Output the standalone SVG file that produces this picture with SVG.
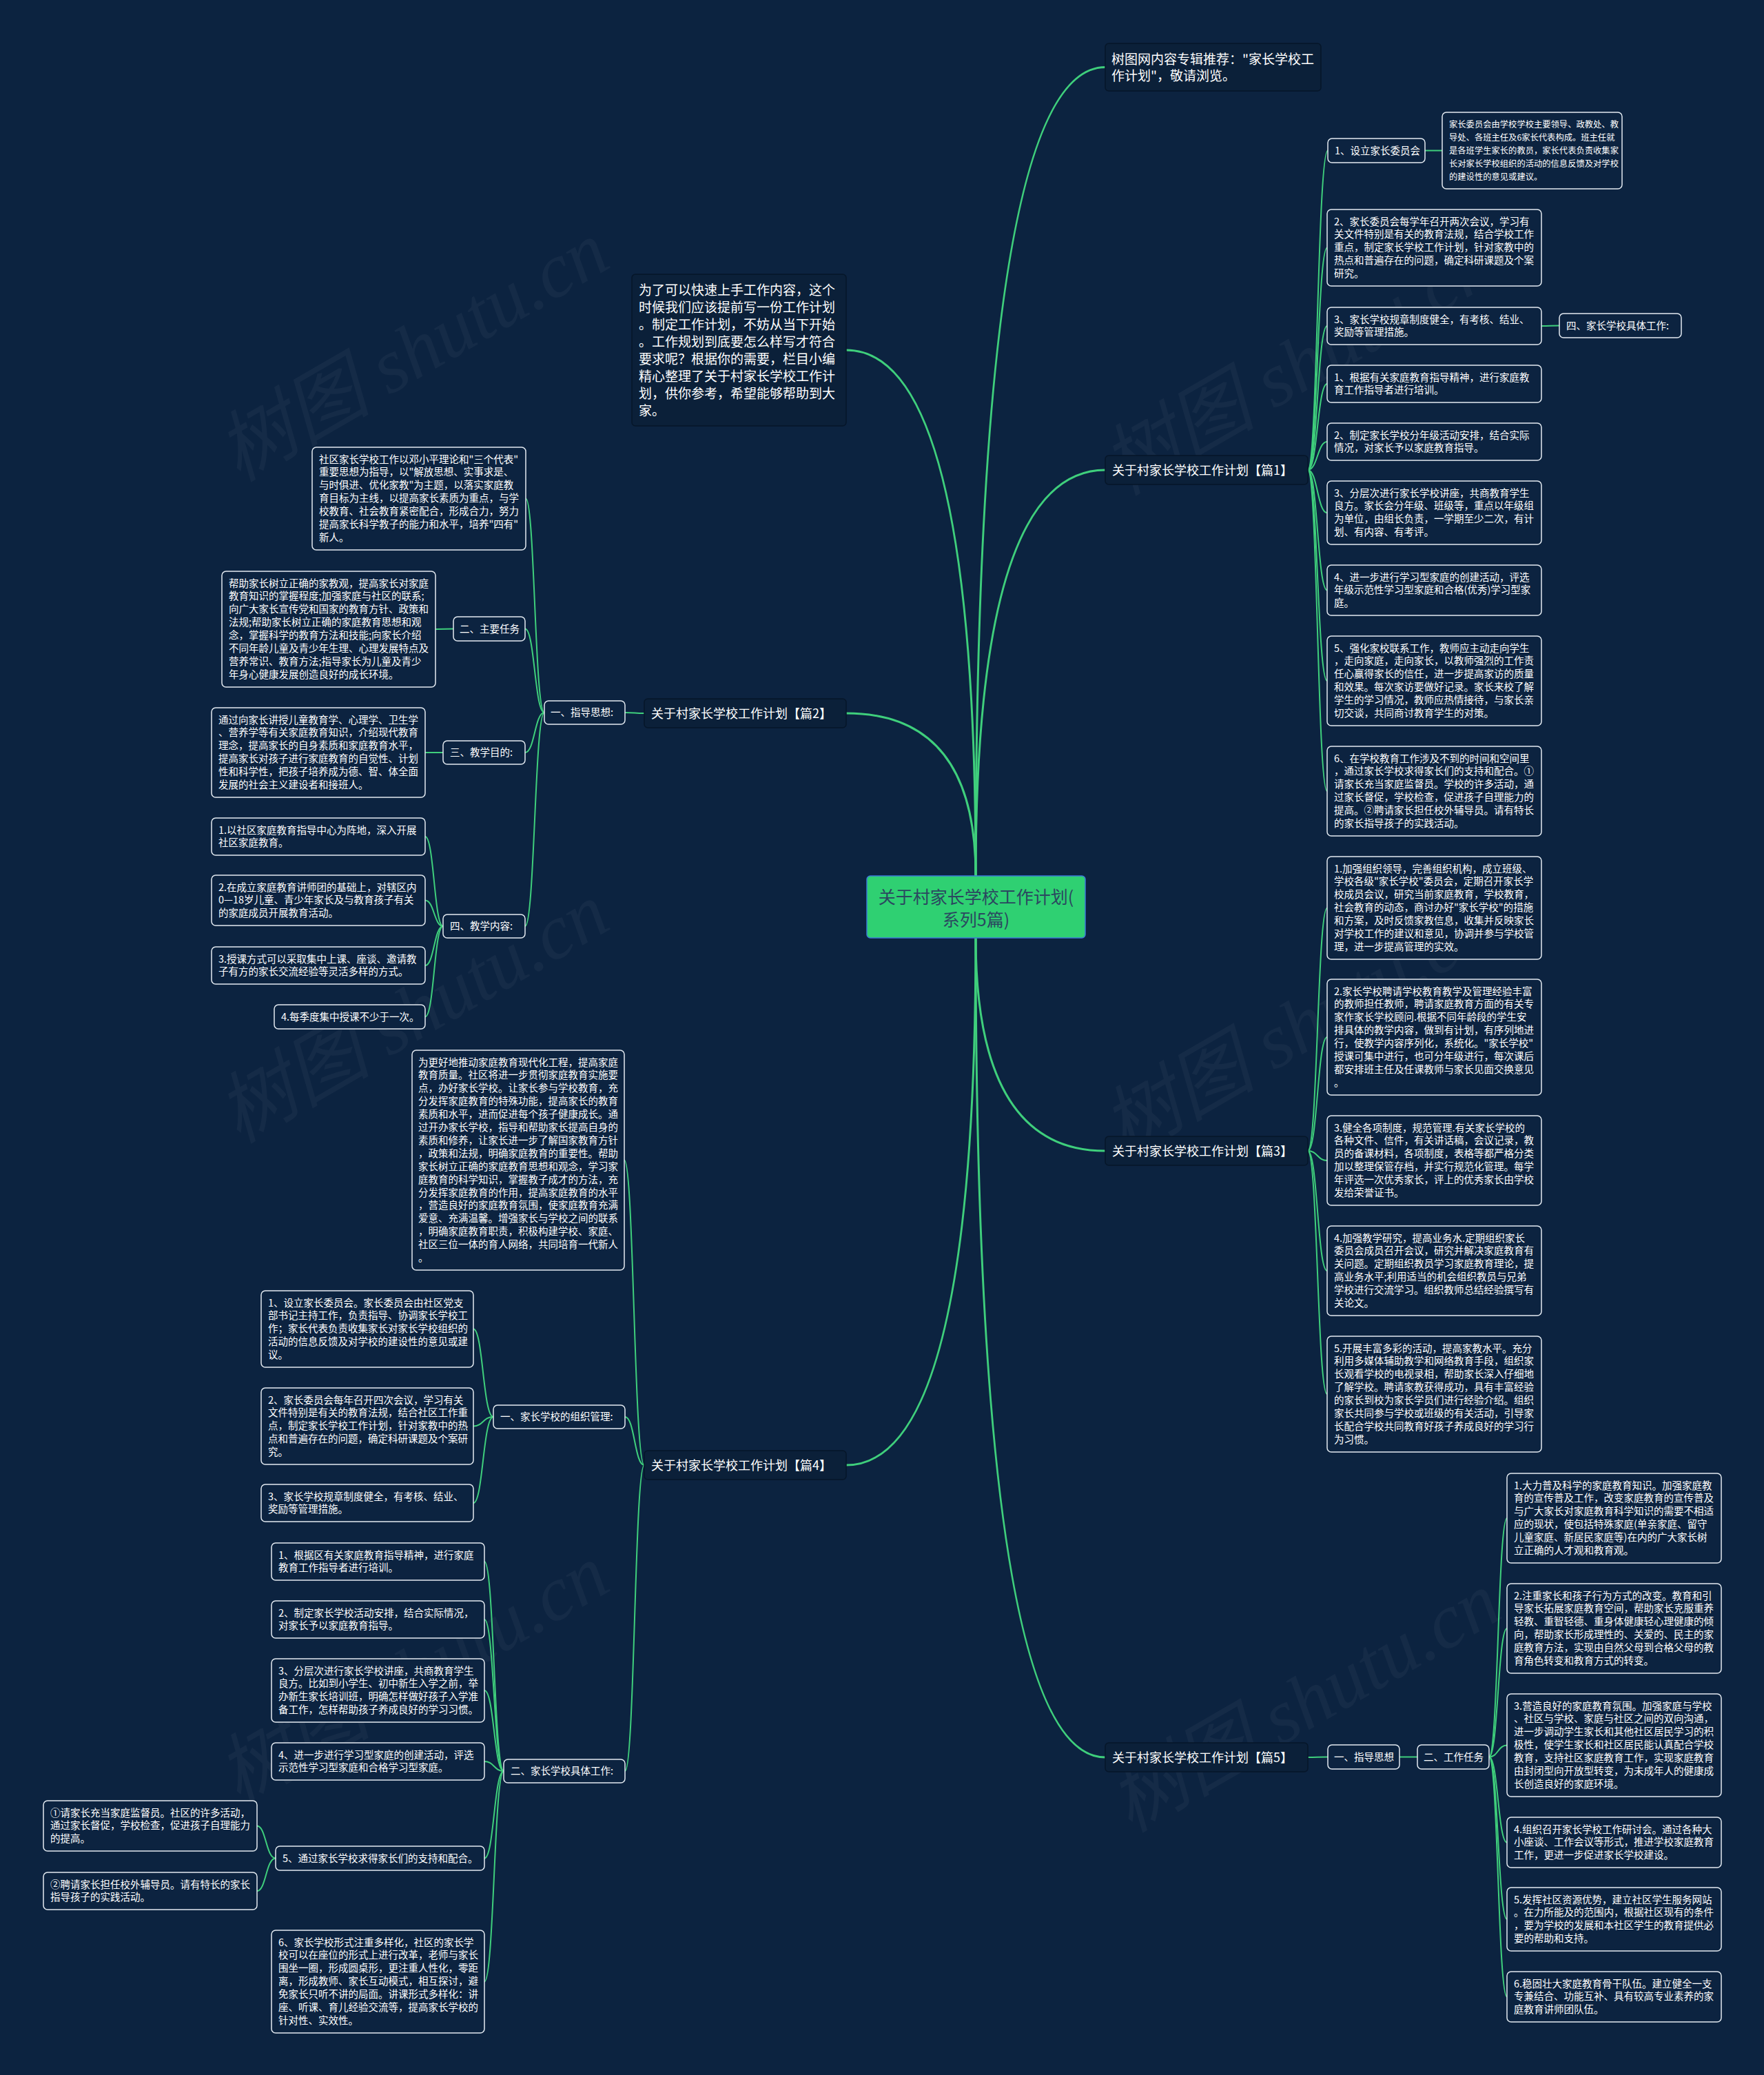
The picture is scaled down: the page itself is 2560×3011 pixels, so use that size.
<svg xmlns="http://www.w3.org/2000/svg" width="2560" height="3011" viewBox="0 0 2560 3011">
<style>
.ln{fill:none;stroke:#3fcf7c;stroke-width:2}
.ln0{fill:none;stroke:#3fcf7c;stroke-width:3}
.bn{fill:#0b2039;stroke:#061629;stroke-width:1.5}
.nd{fill:#0c2340;stroke:#e3eaf1;stroke-width:1.5}
text{font-family:"Noto Sans CJK SC","Noto Sans",sans-serif;fill:#ffffff}
.s{font-size:14.5px}
.xs{font-size:12.3px}
.m{font-size:18px}
.l{font-size:19px}
.c{font-size:25px;fill:#2b4760}
.wm{font-size:112px;fill:#ffffff;opacity:0.035;font-family:"Liberation Serif","Noto Sans CJK SC",serif;font-style:italic}
</style>
<rect x="0" y="0" width="2560" height="3011" fill="#0c2340"/>
<g id="watermarks">
<text class="wm" transform="translate(346,700) rotate(-30)">树图 shutu.cn</text>
<text class="wm" transform="translate(346,1660) rotate(-30)">树图 shutu.cn</text>
<text class="wm" transform="translate(346,2620) rotate(-30)">树图 shutu.cn</text>
<text class="wm" transform="translate(1630,720) rotate(-30)">树图 shutu.cn</text>
<text class="wm" transform="translate(1630,1680) rotate(-30)">树图 shutu.cn</text>
<text class="wm" transform="translate(1640,2660) rotate(-30)">树图 shutu.cn</text>
</g>
<g id="connectors">
<path class="ln0" d="M1416,1271 Q1416,97.5 1604,97.5"/>
<path class="ln0" d="M1416,1271 Q1416,682 1604,682"/>
<path class="ln0" d="M1416,1271 Q1416,508 1228,508"/>
<path class="ln0" d="M1416,1271 Q1416,1035 1228,1035"/>
<path class="ln0" d="M1416,1361 Q1416,1670 1604,1670"/>
<path class="ln0" d="M1416,1361 Q1416,2126 1228,2126"/>
<path class="ln0" d="M1416,1361 Q1416,2550 1604,2550"/>
<path class="ln" d="M1898,682 C1912,682 1912,218.5 1927,218.5"/>
<path class="ln" d="M1898,682 C1912,682 1912,359.5 1926,359.5"/>
<path class="ln" d="M1898,682 C1912,682 1912,473 1926,473"/>
<path class="ln" d="M1898,682 C1912,682 1912,557 1926,557"/>
<path class="ln" d="M1898,682 C1912,682 1912,641 1926,641"/>
<path class="ln" d="M1898,682 C1912,682 1912,744 1926,744"/>
<path class="ln" d="M1898,682 C1912,682 1912,856.5 1926,856.5"/>
<path class="ln" d="M1898,682 C1912,682 1912,988 1926,988"/>
<path class="ln" d="M1898,682 C1912,682 1912,1148 1926,1148"/>
<path class="ln" d="M2068,218.5 L2093,218.5"/>
<path class="ln" d="M2237,473 C2250,473 2250,472.5 2263,472.5"/>
<path class="ln" d="M1898,1670 C1912,1670 1912,1317.5 1926,1317.5"/>
<path class="ln" d="M1898,1670 C1912,1670 1912,1505 1926,1505"/>
<path class="ln" d="M1898,1670 C1912,1670 1912,1684 1926,1684"/>
<path class="ln" d="M1898,1670 C1912,1670 1912,1844 1926,1844"/>
<path class="ln" d="M1898,1670 C1912,1670 1912,2023 1926,2023"/>
<path class="ln" d="M1898,2550 C1912,2550 1912,2549.5 1927,2549.5"/>
<path class="ln" d="M2031,2549.5 L2057,2549.5"/>
<path class="ln" d="M2161,2549.5 C2174,2549.5 2174,2203 2187,2203"/>
<path class="ln" d="M2161,2549.5 C2174,2549.5 2174,2363 2187,2363"/>
<path class="ln" d="M2161,2549.5 C2174,2549.5 2174,2532.5 2187,2532.5"/>
<path class="ln" d="M2161,2549.5 C2174,2549.5 2174,2673.5 2187,2673.5"/>
<path class="ln" d="M2161,2549.5 C2174,2549.5 2174,2785 2187,2785"/>
<path class="ln" d="M2161,2549.5 C2174,2549.5 2174,2897.5 2187,2897.5"/>
<path class="ln" d="M935,1035 C921,1035 921,1034 907,1034"/>
<path class="ln" d="M790,1034 C776,1034 776,723.5 763,723.5"/>
<path class="ln" d="M790,1034 C776,1034 776,912.5 762,912.5"/>
<path class="ln" d="M790,1034 C776,1034 776,1092 762,1092"/>
<path class="ln" d="M790,1034 C776,1034 776,1344 762,1344"/>
<path class="ln" d="M658,912.5 L632,913"/>
<path class="ln" d="M643,1092 L617,1092"/>
<path class="ln" d="M643,1344 C630,1344 630,1214 617,1214"/>
<path class="ln" d="M643,1344 C630,1344 630,1306.5 617,1306.5"/>
<path class="ln" d="M643,1344 C630,1344 630,1401 617,1401"/>
<path class="ln" d="M643,1344 C630,1344 630,1475.5 617,1475.5"/>
<path class="ln" d="M935,2126 C920,2126 920,1683.5 906,1683.5"/>
<path class="ln" d="M935,2126 C921,2126 921,2056 907,2056"/>
<path class="ln" d="M935,2126 C921,2126 921,2570 907,2570"/>
<path class="ln" d="M716,2056 C701,2056 701,1928.5 687,1928.5"/>
<path class="ln" d="M716,2056 C701,2056 701,2069.5 687,2069.5"/>
<path class="ln" d="M716,2056 C701,2056 701,2181 687,2181"/>
<path class="ln" d="M731,2570 C717,2570 717,2266 703,2266"/>
<path class="ln" d="M731,2570 C717,2570 717,2350 703,2350"/>
<path class="ln" d="M731,2570 C717,2570 717,2453 703,2453"/>
<path class="ln" d="M731,2570 C717,2570 717,2556 703,2556"/>
<path class="ln" d="M731,2570 C717,2570 717,2696.5 703,2696.5"/>
<path class="ln" d="M731,2570 C717,2570 717,2875.5 703,2875.5"/>
<path class="ln" d="M400,2696.5 C386,2696.5 386,2649.5 373,2649.5"/>
<path class="ln" d="M400,2696.5 C386,2696.5 386,2744 373,2744"/>
</g>
<g id="center">
<rect x="1258" y="1271" width="317" height="90" rx="5" fill="#2fd072" stroke="#3b78d8" stroke-width="1.5"/>
<text class="c" text-anchor="middle" x="1416.5" y="1311">关于村家长学校工作计划(<tspan x="1416.5" dy="33">系列5篇)</tspan></text>
</g>
<g id="n_tree">
<rect class="bn" x="1604" y="63" width="313" height="69" rx="5"/>
<text class="l" x="1613" y="92.5">树图网内容专辑推荐："家长学校工<tspan x="1613" dy="24">作计划"，敬请浏览。</tspan></text>
</g>
<g id="n_p1">
<rect class="bn" x="1604" y="661" width="294" height="42" rx="5"/>
<text class="m" x="1614" y="688.5">关于村家长学校工作计划【篇1】</text>
</g>
<g id="n_p1_1">
<rect class="nd" x="1927" y="201" width="141" height="35" rx="6"/>
<text class="s" x="1937" y="223.5">1、设立家长委员会</text>
</g>
<g id="n_p1_1a">
<rect class="nd" x="2093" y="163" width="261" height="111" rx="6"/>
<text class="xs" x="2103" y="185">家长委员会由学校学校主要领导、政教处、教<tspan x="2103" dy="18.9">导处、各班主任及6家长代表构成。班主任就</tspan><tspan x="2103" dy="18.9">是各班学生家长的教员，家长代表负责收集家</tspan><tspan x="2103" dy="18.9">长对家长学校组织的活动的信息反馈及对学校</tspan><tspan x="2103" dy="18.9">的建设性的意见或建议。</tspan></text>
</g>
<g id="n_p1_2">
<rect class="nd" x="1926" y="304" width="311" height="111" rx="6"/>
<text class="s" x="1936" y="326.5">2、家长委员会每学年召开两次会议，学习有<tspan x="1936" dy="18.9">关文件特别是有关的教育法规，结合学校工作</tspan><tspan x="1936" dy="18.9">重点，制定家长学校工作计划，针对家教中的</tspan><tspan x="1936" dy="18.9">热点和普遍存在的问题，确定科研课题及个案</tspan><tspan x="1936" dy="18.9">研究。</tspan></text>
</g>
<g id="n_p1_3">
<rect class="nd" x="1926" y="446" width="311" height="54" rx="6"/>
<text class="s" x="1936" y="468.5">3、家长学校规章制度健全，有考核、结业、<tspan x="1936" dy="18.9">奖励等管理措施。</tspan></text>
</g>
<g id="n_p1_3a">
<rect class="nd" x="2263" y="455" width="177" height="35" rx="6"/>
<text class="s" x="2273" y="477.5">四、家长学校具体工作:</text>
</g>
<g id="n_p1_4">
<rect class="nd" x="1926" y="530" width="311" height="54" rx="6"/>
<text class="s" x="1936" y="552.5">1、根据有关家庭教育指导精神，进行家庭教<tspan x="1936" dy="18.9">育工作指导者进行培训。</tspan></text>
</g>
<g id="n_p1_5">
<rect class="nd" x="1926" y="614" width="311" height="54" rx="6"/>
<text class="s" x="1936" y="636.5">2、制定家长学校分年级活动安排，结合实际<tspan x="1936" dy="18.9">情况，对家长予以家庭教育指导。</tspan></text>
</g>
<g id="n_p1_6">
<rect class="nd" x="1926" y="698" width="311" height="92" rx="6"/>
<text class="s" x="1936" y="720.5">3、分层次进行家长学校讲座，共商教育学生<tspan x="1936" dy="18.9">良方。家长会分年级、班级等，重点以年级组</tspan><tspan x="1936" dy="18.9">为单位，由组长负责，一学期至少二次，有计</tspan><tspan x="1936" dy="18.9">划、有内容、有考评。</tspan></text>
</g>
<g id="n_p1_7">
<rect class="nd" x="1926" y="820" width="311" height="73" rx="6"/>
<text class="s" x="1936" y="842.5">4、进一步进行学习型家庭的创建活动，评选<tspan x="1936" dy="18.9">年级示范性学习型家庭和合格(优秀)学习型家</tspan><tspan x="1936" dy="18.9">庭。</tspan></text>
</g>
<g id="n_p1_8">
<rect class="nd" x="1926" y="923" width="311" height="130" rx="6"/>
<text class="s" x="1936" y="945.5">5、强化家校联系工作，教师应主动走向学生<tspan x="1936" dy="18.9">，走向家庭，走向家长，以教师强烈的工作责</tspan><tspan x="1936" dy="18.9">任心赢得家长的信任，进一步提高家访的质量</tspan><tspan x="1936" dy="18.9">和效果。每次家访要做好记录。家长来校了解</tspan><tspan x="1936" dy="18.9">学生的学习情况，教师应热情接待，与家长亲</tspan><tspan x="1936" dy="18.9">切交谈，共同商讨教育学生的对策。</tspan></text>
</g>
<g id="n_p1_9">
<rect class="nd" x="1926" y="1083" width="311" height="130" rx="6"/>
<text class="s" x="1936" y="1105.5">6、在学校教育工作涉及不到的时间和空间里<tspan x="1936" dy="18.9">，通过家长学校求得家长们的支持和配合。①</tspan><tspan x="1936" dy="18.9">请家长充当家庭监督员。学校的许多活动，通</tspan><tspan x="1936" dy="18.9">过家长督促，学校检查，促进孩子自理能力的</tspan><tspan x="1936" dy="18.9">提高。②聘请家长担任校外辅导员。请有特长</tspan><tspan x="1936" dy="18.9">的家长指导孩子的实践活动。</tspan></text>
</g>
<g id="n_p3">
<rect class="bn" x="1604" y="1649" width="294" height="42" rx="5"/>
<text class="m" x="1614" y="1676.5">关于村家长学校工作计划【篇3】</text>
</g>
<g id="n_p3_1">
<rect class="nd" x="1926" y="1243" width="311" height="149" rx="6"/>
<text class="s" x="1936" y="1265.5">1.加强组织领导，完善组织机构，成立班级、<tspan x="1936" dy="18.9">学校各级"家长学校"委员会，定期召开家长学</tspan><tspan x="1936" dy="18.9">校成员会议，研究当前家庭教育，学校教育，</tspan><tspan x="1936" dy="18.9">社会教育的动态，商讨办好"家长学校"的措施</tspan><tspan x="1936" dy="18.9">和方案，及时反馈家教信息，收集并反映家长</tspan><tspan x="1936" dy="18.9">对学校工作的建议和意见，协调并参与学校管</tspan><tspan x="1936" dy="18.9">理，进一步提高管理的实效。</tspan></text>
</g>
<g id="n_p3_2">
<rect class="nd" x="1926" y="1421" width="311" height="168" rx="6"/>
<text class="s" x="1936" y="1443.5">2.家长学校聘请学校教育教学及管理经验丰富<tspan x="1936" dy="18.9">的教师担任教师，聘请家庭教育方面的有关专</tspan><tspan x="1936" dy="18.9">家作家长学校顾问.根据不同年龄段的学生安</tspan><tspan x="1936" dy="18.9">排具体的教学内容，做到有计划，有序列地进</tspan><tspan x="1936" dy="18.9">行，使教学内容序列化，系统化。"家长学校"</tspan><tspan x="1936" dy="18.9">授课可集中进行，也可分年级进行，每次课后</tspan><tspan x="1936" dy="18.9">都安排班主任及任课教师与家长见面交换意见</tspan><tspan x="1936" dy="18.9">。</tspan></text>
</g>
<g id="n_p3_3">
<rect class="nd" x="1926" y="1619" width="311" height="130" rx="6"/>
<text class="s" x="1936" y="1641.5">3.健全各项制度，规范管理.有关家长学校的<tspan x="1936" dy="18.9">各种文件、信件，有关讲话稿，会议记录，教</tspan><tspan x="1936" dy="18.9">员的备课材料，各项制度，表格等都严格分类</tspan><tspan x="1936" dy="18.9">加以整理保管存档，并实行规范化管理。每学</tspan><tspan x="1936" dy="18.9">年评选一次优秀家长，评上的优秀家长由学校</tspan><tspan x="1936" dy="18.9">发给荣誉证书。</tspan></text>
</g>
<g id="n_p3_4">
<rect class="nd" x="1926" y="1779" width="311" height="130" rx="6"/>
<text class="s" x="1936" y="1801.5">4.加强教学研究，提高业务水.定期组织家长<tspan x="1936" dy="18.9">委员会成员召开会议，研究并解决家庭教育有</tspan><tspan x="1936" dy="18.9">关问题。定期组织教员学习家庭教育理论，提</tspan><tspan x="1936" dy="18.9">高业务水平;利用适当的机会组织教员与兄弟</tspan><tspan x="1936" dy="18.9">学校进行交流学习。组织教师总结经验撰写有</tspan><tspan x="1936" dy="18.9">关论文。</tspan></text>
</g>
<g id="n_p3_5">
<rect class="nd" x="1926" y="1939" width="311" height="168" rx="6"/>
<text class="s" x="1936" y="1961.5">5.开展丰富多彩的活动，提高家教水平。充分<tspan x="1936" dy="18.9">利用多媒体辅助教学和网络教育手段，组织家</tspan><tspan x="1936" dy="18.9">长观看学校的电视录相，帮助家长深入仔细地</tspan><tspan x="1936" dy="18.9">了解学校。聘请家教获得成功，具有丰富经验</tspan><tspan x="1936" dy="18.9">的家长到校为家长学员们进行经验介绍。组织</tspan><tspan x="1936" dy="18.9">家长共同参与学校或班级的有关活动，引导家</tspan><tspan x="1936" dy="18.9">长配合学校共同教育好孩子养成良好的学习行</tspan><tspan x="1936" dy="18.9">为习惯。</tspan></text>
</g>
<g id="n_p5">
<rect class="bn" x="1604" y="2529" width="294" height="42" rx="5"/>
<text class="m" x="1614" y="2556.5">关于村家长学校工作计划【篇5】</text>
</g>
<g id="n_p5_1">
<rect class="nd" x="1927" y="2532" width="104" height="35" rx="6"/>
<text class="s" x="1936" y="2554.5">一、指导思想</text>
</g>
<g id="n_p5_2">
<rect class="nd" x="2057" y="2532" width="104" height="35" rx="6"/>
<text class="s" x="2066" y="2554.5">二、工作任务</text>
</g>
<g id="n_p5_2_1">
<rect class="nd" x="2187" y="2138" width="311" height="130" rx="6"/>
<text class="s" x="2197" y="2160.5">1.大力普及科学的家庭教育知识。加强家庭教<tspan x="2197" dy="18.9">育的宣传普及工作，改变家庭教育的宣传普及</tspan><tspan x="2197" dy="18.9">与广大家长对家庭教育科学知识的需要不相适</tspan><tspan x="2197" dy="18.9">应的现状，使包括特殊家庭(单亲家庭、留守</tspan><tspan x="2197" dy="18.9">儿童家庭、新居民家庭等)在内的广大家长树</tspan><tspan x="2197" dy="18.9">立正确的人才观和教育观。</tspan></text>
</g>
<g id="n_p5_2_2">
<rect class="nd" x="2187" y="2298" width="311" height="130" rx="6"/>
<text class="s" x="2197" y="2320.5">2.注重家长和孩子行为方式的改变。教育和引<tspan x="2197" dy="18.9">导家长拓展家庭教育空间，帮助家长克服重养</tspan><tspan x="2197" dy="18.9">轻教、重智轻德、重身体健康轻心理健康的倾</tspan><tspan x="2197" dy="18.9">向，帮助家长形成理性的、关爱的、民主的家</tspan><tspan x="2197" dy="18.9">庭教育方法，实现由自然父母到合格父母的教</tspan><tspan x="2197" dy="18.9">育角色转变和教育方式的转变。</tspan></text>
</g>
<g id="n_p5_2_3">
<rect class="nd" x="2187" y="2458" width="311" height="149" rx="6"/>
<text class="s" x="2197" y="2480.5">3.营造良好的家庭教育氛围。加强家庭与学校<tspan x="2197" dy="18.9">、社区与学校、家庭与社区之间的双向沟通，</tspan><tspan x="2197" dy="18.9">进一步调动学生家长和其他社区居民学习的积</tspan><tspan x="2197" dy="18.9">极性，使学生家长和社区居民能认真配合学校</tspan><tspan x="2197" dy="18.9">教育，支持社区家庭教育工作，实现家庭教育</tspan><tspan x="2197" dy="18.9">由封闭型向开放型转变，为未成年人的健康成</tspan><tspan x="2197" dy="18.9">长创造良好的家庭环境。</tspan></text>
</g>
<g id="n_p5_2_4">
<rect class="nd" x="2187" y="2637" width="311" height="73" rx="6"/>
<text class="s" x="2197" y="2659.5">4.组织召开家长学校工作研讨会。通过各种大<tspan x="2197" dy="18.9">小座谈、工作会议等形式，推进学校家庭教育</tspan><tspan x="2197" dy="18.9">工作，更进一步促进家长学校建设。</tspan></text>
</g>
<g id="n_p5_2_5">
<rect class="nd" x="2187" y="2739" width="311" height="92" rx="6"/>
<text class="s" x="2197" y="2761.5">5.发挥社区资源优势，建立社区学生服务网站<tspan x="2197" dy="18.9">。在力所能及的范围内，根据社区现有的条件</tspan><tspan x="2197" dy="18.9">，要为学校的发展和本社区学生的教育提供必</tspan><tspan x="2197" dy="18.9">要的帮助和支持。</tspan></text>
</g>
<g id="n_p5_2_6">
<rect class="nd" x="2187" y="2861" width="311" height="73" rx="6"/>
<text class="s" x="2197" y="2883.5">6.稳固壮大家庭教育骨干队伍。建立健全一支<tspan x="2197" dy="18.9">专兼结合、功能互补、具有较高专业素养的家</tspan><tspan x="2197" dy="18.9">庭教育讲师团队伍。</tspan></text>
</g>
<g id="n_intro">
<rect class="bn" x="917" y="398" width="311" height="220" rx="5"/>
<text class="l" x="927" y="427.5">为了可以快速上手工作内容，这个<tspan x="927" dy="25">时候我们应该提前写一份工作计划</tspan><tspan x="927" dy="25">。制定工作计划，不妨从当下开始</tspan><tspan x="927" dy="25">。工作规划到底要怎么样写才符合</tspan><tspan x="927" dy="25">要求呢？根据你的需要，栏目小编</tspan><tspan x="927" dy="25">精心整理了关于村家长学校工作计</tspan><tspan x="927" dy="25">划，供你参考，希望能够帮助到大</tspan><tspan x="927" dy="25">家。</tspan></text>
</g>
<g id="n_p2">
<rect class="bn" x="935" y="1014" width="293" height="42" rx="5"/>
<text class="m" x="945" y="1041.5">关于村家长学校工作计划【篇2】</text>
</g>
<g id="n_p2_1">
<rect class="nd" x="790" y="1017" width="117" height="34" rx="6"/>
<text class="s" x="799" y="1039">一、指导思想:</text>
</g>
<g id="n_p2_1_1">
<rect class="nd" x="453" y="649" width="310" height="149" rx="6"/>
<text class="s" x="463" y="671.5">社区家长学校工作以邓小平理论和"三个代表"<tspan x="463" dy="18.9">重要思想为指导，以"解放思想、实事求是、</tspan><tspan x="463" dy="18.9">与时俱进、优化家教"为主题，以落实家庭教</tspan><tspan x="463" dy="18.9">育目标为主线，以提高家长素质为重点，与学</tspan><tspan x="463" dy="18.9">校教育、社会教育紧密配合，形成合力，努力</tspan><tspan x="463" dy="18.9">提高家长科学教子的能力和水平，培养"四有"</tspan><tspan x="463" dy="18.9">新人。</tspan></text>
</g>
<g id="n_p2_1_2">
<rect class="nd" x="658" y="895" width="104" height="35" rx="6"/>
<text class="s" x="667" y="917.5">二、主要任务</text>
</g>
<g id="n_p2_1_2a">
<rect class="nd" x="322" y="829" width="310" height="168" rx="6"/>
<text class="s" x="332" y="851.5">帮助家长树立正确的家教观，提高家长对家庭<tspan x="332" dy="18.9">教育知识的掌握程度;加强家庭与社区的联系;</tspan><tspan x="332" dy="18.9">向广大家长宣传党和国家的教育方针、政策和</tspan><tspan x="332" dy="18.9">法规;帮助家长树立正确的家庭教育思想和观</tspan><tspan x="332" dy="18.9">念，掌握科学的教育方法和技能;向家长介绍</tspan><tspan x="332" dy="18.9">不同年龄儿童及青少年生理、心理发展特点及</tspan><tspan x="332" dy="18.9">营养常识、教育方法;指导家长为儿童及青少</tspan><tspan x="332" dy="18.9">年身心健康发展创造良好的成长环境。</tspan></text>
</g>
<g id="n_p2_1_3">
<rect class="nd" x="643" y="1075" width="119" height="34" rx="6"/>
<text class="s" x="653" y="1097">三、教学目的:</text>
</g>
<g id="n_p2_1_3a">
<rect class="nd" x="307" y="1027" width="310" height="130" rx="6"/>
<text class="s" x="317" y="1049.5">通过向家长讲授儿童教育学、心理学、卫生学<tspan x="317" dy="18.9">、营养学等有关家庭教育知识，介绍现代教育</tspan><tspan x="317" dy="18.9">理念，提高家长的自身素质和家庭教育水平，</tspan><tspan x="317" dy="18.9">提高家长对孩子进行家庭教育的自觉性、计划</tspan><tspan x="317" dy="18.9">性和科学性，把孩子培养成为德、智、体全面</tspan><tspan x="317" dy="18.9">发展的社会主义建设者和接班人。</tspan></text>
</g>
<g id="n_p2_1_4">
<rect class="nd" x="643" y="1327" width="119" height="34" rx="6"/>
<text class="s" x="653" y="1349">四、教学内容:</text>
</g>
<g id="n_p2_1_4a">
<rect class="nd" x="307" y="1187" width="310" height="54" rx="6"/>
<text class="s" x="317" y="1209.5">1.以社区家庭教育指导中心为阵地，深入开展<tspan x="317" dy="18.9">社区家庭教育。</tspan></text>
</g>
<g id="n_p2_1_4b">
<rect class="nd" x="307" y="1270" width="310" height="73" rx="6"/>
<text class="s" x="317" y="1292.5">2.在成立家庭教育讲师团的基础上，对辖区内<tspan x="317" dy="18.9">0—18岁儿童、青少年家长及与教育孩子有关</tspan><tspan x="317" dy="18.9">的家庭成员开展教育活动。</tspan></text>
</g>
<g id="n_p2_1_4c">
<rect class="nd" x="307" y="1374" width="310" height="54" rx="6"/>
<text class="s" x="317" y="1396.5">3.授课方式可以采取集中上课、座谈、邀请教<tspan x="317" dy="18.9">子有方的家长交流经验等灵活多样的方式。</tspan></text>
</g>
<g id="n_p2_1_4d">
<rect class="nd" x="398" y="1458" width="219" height="35" rx="6"/>
<text class="s" x="408" y="1480.5">4.每季度集中授课不少于一次。</text>
</g>
<g id="n_p4">
<rect class="bn" x="935" y="2105" width="293" height="42" rx="5"/>
<text class="m" x="945" y="2132.5">关于村家长学校工作计划【篇4】</text>
</g>
<g id="n_p4_1">
<rect class="nd" x="598" y="1524" width="308" height="319" rx="6"/>
<text class="s" x="607" y="1546.5">为更好地推动家庭教育现代化工程，提高家庭<tspan x="607" dy="18.9">教育质量。社区将进一步贯彻家庭教育实施要</tspan><tspan x="607" dy="18.9">点，办好家长学校。让家长参与学校教育，充</tspan><tspan x="607" dy="18.9">分发挥家庭教育的特殊功能，提高家长的教育</tspan><tspan x="607" dy="18.9">素质和水平，进而促进每个孩子健康成长。通</tspan><tspan x="607" dy="18.9">过开办家长学校，指导和帮助家长提高自身的</tspan><tspan x="607" dy="18.9">素质和修养，让家长进一步了解国家教育方针</tspan><tspan x="607" dy="18.9">，政策和法规，明确家庭教育的重要性。帮助</tspan><tspan x="607" dy="18.9">家长树立正确的家庭教育思想和观念，学习家</tspan><tspan x="607" dy="18.9">庭教育的科学知识，掌握教子成才的方法，充</tspan><tspan x="607" dy="18.9">分发挥家庭教育的作用，提高家庭教育的水平</tspan><tspan x="607" dy="18.9">，营造良好的家庭教育氛围，使家庭教育充满</tspan><tspan x="607" dy="18.9">爱意、充满温馨。增强家长与学校之间的联系</tspan><tspan x="607" dy="18.9">，明确家庭教育职责，积极构建学校、家庭、</tspan><tspan x="607" dy="18.9">社区三位一体的育人网络，共同培育一代新人</tspan><tspan x="607" dy="18.9">。</tspan></text>
</g>
<g id="n_p4_2">
<rect class="nd" x="716" y="2039" width="191" height="34" rx="6"/>
<text class="s" x="726" y="2061">一、家长学校的组织管理:</text>
</g>
<g id="n_p4_2a">
<rect class="nd" x="379" y="1873" width="308" height="111" rx="6"/>
<text class="s" x="389" y="1895.5">1、设立家长委员会。家长委员会由社区党支<tspan x="389" dy="18.9">部书记主持工作，负责指导、协调家长学校工</tspan><tspan x="389" dy="18.9">作；家长代表负责收集家长对家长学校组织的</tspan><tspan x="389" dy="18.9">活动的信息反馈及对学校的建设性的意见或建</tspan><tspan x="389" dy="18.9">议。</tspan></text>
</g>
<g id="n_p4_2b">
<rect class="nd" x="379" y="2014" width="308" height="111" rx="6"/>
<text class="s" x="389" y="2036.5">2、家长委员会每年召开四次会议，学习有关<tspan x="389" dy="18.9">文件特别是有关的教育法规，结合社区工作重</tspan><tspan x="389" dy="18.9">点，制定家长学校工作计划，针对家教中的热</tspan><tspan x="389" dy="18.9">点和普遍存在的问题，确定科研课题及个案研</tspan><tspan x="389" dy="18.9">究。</tspan></text>
</g>
<g id="n_p4_2c">
<rect class="nd" x="379" y="2154" width="308" height="54" rx="6"/>
<text class="s" x="389" y="2176.5">3、家长学校规章制度健全，有考核、结业、<tspan x="389" dy="18.9">奖励等管理措施。</tspan></text>
</g>
<g id="n_p4_3">
<rect class="nd" x="731" y="2553" width="176" height="34" rx="6"/>
<text class="s" x="741" y="2575">二、家长学校具体工作:</text>
</g>
<g id="n_p4_3a">
<rect class="nd" x="394" y="2239" width="309" height="54" rx="6"/>
<text class="s" x="404" y="2261.5">1、根据区有关家庭教育指导精神，进行家庭<tspan x="404" dy="18.9">教育工作指导者进行培训。</tspan></text>
</g>
<g id="n_p4_3b">
<rect class="nd" x="394" y="2323" width="309" height="54" rx="6"/>
<text class="s" x="404" y="2345.5">2、制定家长学校活动安排，结合实际情况，<tspan x="404" dy="18.9">对家长予以家庭教育指导。</tspan></text>
</g>
<g id="n_p4_3c">
<rect class="nd" x="394" y="2407" width="309" height="92" rx="6"/>
<text class="s" x="404" y="2429.5">3、分层次进行家长学校讲座，共商教育学生<tspan x="404" dy="18.9">良方。比如到小学生、初中新生入学之前，举</tspan><tspan x="404" dy="18.9">办新生家长培训班，明确怎样做好孩子入学准</tspan><tspan x="404" dy="18.9">备工作，怎样帮助孩子养成良好的学习习惯。</tspan></text>
</g>
<g id="n_p4_3d">
<rect class="nd" x="394" y="2529" width="309" height="54" rx="6"/>
<text class="s" x="404" y="2551.5">4、进一步进行学习型家庭的创建活动，评选<tspan x="404" dy="18.9">示范性学习型家庭和合格学习型家庭。</tspan></text>
</g>
<g id="n_p4_3e">
<rect class="nd" x="400" y="2679" width="303" height="35" rx="6"/>
<text class="s" x="410" y="2701.5">5、通过家长学校求得家长们的支持和配合。</text>
</g>
<g id="n_p4_3e1">
<rect class="nd" x="63" y="2613" width="310" height="73" rx="6"/>
<text class="s" x="73" y="2635.5">①请家长充当家庭监督员。社区的许多活动，<tspan x="73" dy="18.9">通过家长督促，学校检查，促进孩子自理能力</tspan><tspan x="73" dy="18.9">的提高。</tspan></text>
</g>
<g id="n_p4_3e2">
<rect class="nd" x="63" y="2717" width="310" height="54" rx="6"/>
<text class="s" x="73" y="2739.5">②聘请家长担任校外辅导员。请有特长的家长<tspan x="73" dy="18.9">指导孩子的实践活动。</tspan></text>
</g>
<g id="n_p4_3f">
<rect class="nd" x="394" y="2801" width="309" height="149" rx="6"/>
<text class="s" x="404" y="2823.5">6、家长学校形式注重多样化，社区的家长学<tspan x="404" dy="18.9">校可以在座位的形式上进行改革，老师与家长</tspan><tspan x="404" dy="18.9">围坐一圈，形成圆桌形，更注重人性化，零距</tspan><tspan x="404" dy="18.9">离，形成教师、家长互动模式，相互探讨，避</tspan><tspan x="404" dy="18.9">免家长只听不讲的局面。讲课形式多样化：讲</tspan><tspan x="404" dy="18.9">座、听课、育儿经验交流等，提高家长学校的</tspan><tspan x="404" dy="18.9">针对性、实效性。</tspan></text>
</g>
</svg>
